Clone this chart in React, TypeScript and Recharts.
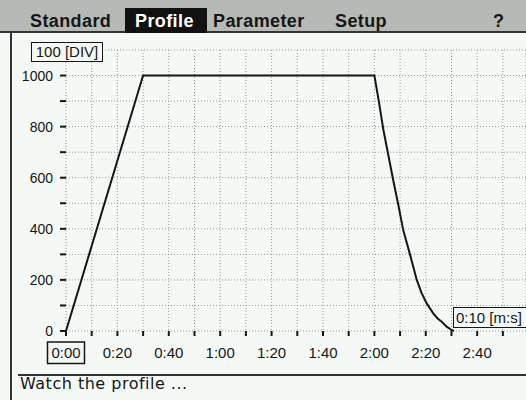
import { LineChart, Line, XAxis, YAxis, CartesianGrid } from 'recharts'

// profile: time in seconds, value in DIV
const timeSec = [0, 30, 120, 121.8, 123.5, 125.4, 127.3, 129.3, 131.2, 133.9, 136.5, 138.3, 140.3, 142.9, 144.5, 146.2, 148, 150, 151]
const speedDiv = [0, 1000, 1000, 895, 788, 690, 592, 494, 396, 298, 200, 150, 109, 69, 50, 36, 18, 4, 0]

const xTicks = [0, 10, 20, 30, 40, 50, 60, 70, 80, 90, 100, 110, 120, 130, 140, 150, 160, 170]
const xTickLabels = ['0:00', '', '0:20', '', '0:40', '', '1:00', '', '1:20', '', '1:40', '', '2:00', '', '2:20', '', '2:40', '']

const yTicks = [0, 100, 200, 300, 400, 500, 600, 700, 800, 900, 1000]
const yTickLabels = ['0', '', '200', '', '400', '', '600', '', '800', '', '1000']

const tabs = ['Standard', 'Profile', 'Parameter', 'Setup']

const data = timeSec.map((t, i) => ({ t, v: speedDiv[i] }))

const INK = '#161616'
const BG = '#f5f9f5'

const XTick = (props: any) => {
  const { x, y, payload } = props
  const label = xTickLabels[xTicks.indexOf(payload.value)] || ''
  return (
    <g>
      {payload.value === 0 && (
        <rect x={x - 18.5} y={y - 5} width={37} height={21.5} fill="none" stroke={INK} strokeWidth={1.5} />
      )}
      <text x={x} y={y} dy="0.71em" textAnchor="middle" fontSize={15} fill={INK}>
        {label}
      </text>
    </g>
  )
}

const tabLeft = [30, 135, 213, 335]

export default function App() {
  return (
    <div
      style={{
        position: 'absolute',
        left: 0,
        top: 0,
        width: 526,
        height: 400,
        overflow: 'hidden',
        background: BG,
        fontFamily: '"Liberation Sans", Arial, sans-serif',
        color: INK,
      }}
    >
      <div style={{ position: 'absolute', left: 0, top: 0 }}>
        <LineChart width={526} height={400} data={data} margin={{ top: 50, right: 0, bottom: 0, left: 0 }}>
          <CartesianGrid stroke="#9a9a9a" strokeDasharray="1 2" />
          <XAxis
            dataKey="t"
            type="number"
            domain={[0, 179]}
            ticks={xTicks}
            interval={0}
            height={69}
            tickSize={5}
            tickMargin={11}
            axisLine={false}
            tickLine={{ stroke: INK, strokeWidth: 2 }}
            tick={<XTick />}
          />
          <YAxis
            type="number"
            domain={[0, 1100]}
            ticks={yTicks}
            interval={0}
            width={66}
            tickSize={6}
            tickMargin={7}
            axisLine={false}
            tickLine={{ stroke: INK, strokeWidth: 2 }}
            tick={{ fill: INK, fontSize: 14 }}
            tickFormatter={(v: number) => yTickLabels[yTicks.indexOf(v)] || ''}
          />
          <Line type="linear" dataKey="v" stroke={INK} strokeWidth={2} dot={false} isAnimationActive={false} />
        </LineChart>
      </div>

      {/* header bar */}
      <div
        style={{
          position: 'absolute',
          left: 0,
          top: 0,
          width: 526,
          height: 31,
          background: '#b6bab6',
          borderBottom: '2px solid #333',
        }}
      />
      <div
        style={{
          position: 'absolute',
          left: 125,
          top: 8,
          width: 82,
          height: 25,
          background: '#111',
        }}
      />
      {tabs.map((name, i) => (
        <div
          key={name}
          style={{
            position: 'absolute',
            left: tabLeft[i],
            top: 12,
            fontSize: 18,
            lineHeight: '18px',
            fontWeight: 'bold',
            letterSpacing: 0.4,
            color: name === 'Profile' ? '#fff' : INK,
          }}
        >
          {name}
        </div>
      ))}
      <div style={{ position: 'absolute', left: 493, top: 12, fontSize: 18, lineHeight: '18px', fontWeight: 'bold' }}>?</div>

      {/* left frame */}
      <div style={{ position: 'absolute', left: 10, top: 33, width: 2, height: 367, background: '#333' }} />

      {/* axis unit boxes */}
      <div
        style={{
          position: 'absolute',
          left: 31,
          top: 42,
          width: 70,
          height: 18,
          border: `1.5px solid ${INK}`,
          background: BG,
          fontSize: 15,
          lineHeight: '18px',
          textAlign: 'center',
        }}
      >
        100 [DIV]
      </div>
      <div
        style={{
          position: 'absolute',
          left: 453,
          top: 307,
          width: 80,
          height: 19,
          border: `1.5px solid ${INK}`,
          background: BG,
          fontSize: 15,
          lineHeight: '19px',
          paddingLeft: 2,
        }}
      >
        0:10 [m:s]
      </div>

      {/* status line */}
      <div style={{ position: 'absolute', left: 18, top: 374, width: 508, height: 2, background: '#333' }} />
      <div
        style={{
          position: 'absolute',
          left: 20,
          top: 376,
          fontFamily: '"DejaVu Sans", sans-serif',
          fontSize: 16,
          lineHeight: '16px',
          letterSpacing: 0.5,
        }}
      >
        Watch the profile ...
      </div>
    </div>
  )
}
